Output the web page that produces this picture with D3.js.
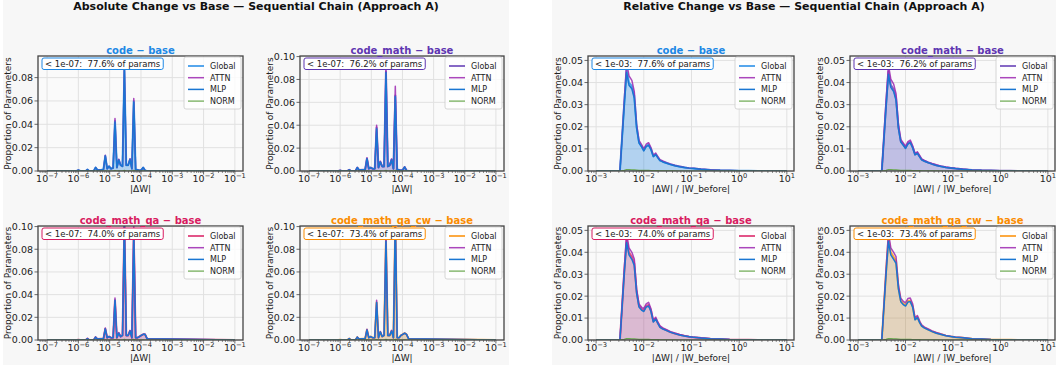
<!DOCTYPE html>
<html>
<head>
<meta charset="utf-8">
<script src="https://cdn.jsdelivr.net/npm/d3@7"></script>
<style>
  body { margin: 0; background: #fff; }
  text { font-family: "DejaVu Sans", sans-serif; }
</style>
</head>
<body>
<svg id="fig" width="1056" height="375"></svg>
<script>
// ---- data ----
const variants = ["code", "code_math", "code_math_qa", "code_math_qa_cw"];
const variantColors = ["#1e88e5", "#5e35b1", "#d81b60", "#fb8c00"];
const belowPct = ["77.6%", "76.2%", "74.0%", "73.4%"];
const seriesNames = ["Global", "ATTN", "MLP", "NORM"];

// absolute |dW| histograms (x in log10)
const absLogX = [-7.0, -6.06, -6.0, -5.94, -5.77, -5.71, -5.65, -5.51, -5.45, -5.39, -5.27, -5.20, -5.14, -5.08, -5.02, -4.96, -4.89, -4.83, -4.77, -4.71, -4.65, -4.59, -4.53, -4.47, -4.41, -4.35, -4.29, -4.23, -4.17, -4.11, -4.05, -3.99, -3.93, -3.87, -3.80, -1.0];
const absGlobal = [
  [0, 0, 0.0008, 0, 0, 0.0012, 0, 0, 0.003, 0.0008, 0.001, 0.0012, 0.013, 0.002, 0.004, 0.002, 0.0025, 0.043, 0.003, 0.0097, 0.005, 0.004, 0.087, 0.005, 0.005, 0.010, 0.002, 0.060, 0.001, 0.001, 0.0005, 0.0008, 0.003, 0.0005, 0, 0],
  [0, 0, 0.0005, 0, 0, 0.001, 0, 0, 0.003, 0.0008, 0.001, 0.001, 0.011, 0.002, 0.003, 0.002, 0.002, 0.038, 0.003, 0.008, 0.004, 0.004, 0.087, 0.004, 0.005, 0.010, 0.002, 0.066, 0.001, 0.001, 0.0005, 0.001, 0.0035, 0.0005, 0, 0],
  [0, 0, 0.0003, 0, 0, 0.0012, 0, 0, 0.0025, 0.0008, 0.001, 0.001, 0.010, 0.002, 0.003, 0.002, 0.002, 0.035, 0.002, 0.006, 0.003, 0.004, 0.102, 0.004, 0.004, 0.008, 0.002, 0.092, 0.002, 0.002, 0.003, 0.004, 0.005, 0.005, 0.001, 0],
  [0, 0, 0.0003, 0, 0, 0.0012, 0, 0, 0.0025, 0.0008, 0.001, 0.001, 0.009, 0.002, 0.003, 0.002, 0.002, 0.033, 0.002, 0.007, 0.003, 0.004, 0.088, 0.004, 0.004, 0.008, 0.002, 0.104, 0.002, 0.002, 0.004, 0.005, 0.006, 0.005, 0.001, 0]
];
const absAttn = [
  [0, 0, 0.0008, 0, 0, 0.0012, 0, 0, 0.003, 0.0008, 0.001, 0.0012, 0.0135, 0.002, 0.004, 0.002, 0.0025, 0.045, 0.003, 0.010, 0.005, 0.004, 0.090, 0.005, 0.005, 0.0105, 0.002, 0.062, 0.001, 0.001, 0.0005, 0.0008, 0.003, 0.0005, 0, 0],
  [0, 0, 0.0005, 0, 0, 0.001, 0, 0, 0.003, 0.0008, 0.001, 0.001, 0.0115, 0.002, 0.003, 0.002, 0.002, 0.040, 0.003, 0.0085, 0.004, 0.004, 0.091, 0.004, 0.005, 0.0105, 0.002, 0.074, 0.001, 0.001, 0.0005, 0.001, 0.0035, 0.0005, 0, 0],
  [0, 0, 0.0003, 0, 0, 0.0012, 0, 0, 0.0025, 0.0008, 0.001, 0.001, 0.0105, 0.002, 0.003, 0.002, 0.002, 0.037, 0.002, 0.0065, 0.003, 0.004, 0.106, 0.004, 0.004, 0.0085, 0.002, 0.100, 0.002, 0.002, 0.003, 0.004, 0.005, 0.005, 0.001, 0],
  [0, 0, 0.0003, 0, 0, 0.0012, 0, 0, 0.0025, 0.0008, 0.001, 0.001, 0.0095, 0.002, 0.003, 0.002, 0.002, 0.035, 0.002, 0.0075, 0.003, 0.004, 0.094, 0.004, 0.004, 0.0085, 0.002, 0.108, 0.002, 0.002, 0.004, 0.005, 0.006, 0.005, 0.001, 0]
];
const absMlp = [
  [0, 0, 0.0008, 0, 0, 0.0012, 0, 0, 0.003, 0.0008, 0.001, 0.0012, 0.0128, 0.002, 0.004, 0.002, 0.0025, 0.042, 0.003, 0.0095, 0.005, 0.004, 0.086, 0.005, 0.005, 0.0098, 0.002, 0.059, 0.001, 0.001, 0.0005, 0.0008, 0.003, 0.0005, 0, 0],
  [0, 0, 0.0005, 0, 0, 0.001, 0, 0, 0.003, 0.0008, 0.001, 0.001, 0.0108, 0.002, 0.003, 0.002, 0.002, 0.037, 0.003, 0.0078, 0.004, 0.004, 0.086, 0.004, 0.005, 0.0098, 0.002, 0.065, 0.001, 0.001, 0.0005, 0.001, 0.0035, 0.0005, 0, 0],
  [0, 0, 0.0003, 0, 0, 0.0012, 0, 0, 0.0025, 0.0008, 0.001, 0.001, 0.0098, 0.002, 0.003, 0.002, 0.002, 0.035, 0.002, 0.006, 0.003, 0.004, 0.101, 0.004, 0.004, 0.008, 0.002, 0.091, 0.002, 0.002, 0.003, 0.004, 0.005, 0.005, 0.001, 0],
  [0, 0, 0.0003, 0, 0, 0.0012, 0, 0, 0.0025, 0.0008, 0.001, 0.001, 0.0088, 0.002, 0.003, 0.002, 0.002, 0.033, 0.002, 0.007, 0.003, 0.004, 0.087, 0.004, 0.004, 0.008, 0.002, 0.103, 0.002, 0.002, 0.004, 0.005, 0.006, 0.005, 0.001, 0]
];
const absNorm = [0, 0, 0, 0, 0, 0, 0, 0, 0, 0, 0, 0, 0.0002, 0, 0, 0, 0, 0.0004, 0, 0.0002, 0, 0, 0.0006, 0, 0, 0.0002, 0, 0.0005, 0, 0, 0, 0, 0.0001, 0, 0, 0];

// relative |dW|/|W_before| histograms (x in log10)
const relLogX = [-3.0, -2.50, -2.41, -2.36, -2.31, -2.25, -2.20, -2.15, -2.10, -2.04, -2.00, -1.95, -1.90, -1.85, -1.80, -1.75, -1.70, -1.66, -1.60, -1.52, -1.44, -1.35, -1.25, -1.15, -1.05, -0.95, -0.80, -0.60, -0.40, -0.20, 0.0, 0.2, 0.4, 0.6, 1.0];
const relGlobal = [
  [0, 0, 0.0306, 0.046, 0.040, 0.0385, 0.034, 0.020, 0.013, 0.011, 0.0094, 0.0114, 0.012, 0.010, 0.0067, 0.0076, 0.006, 0.0048, 0.0042, 0.0036, 0.0030, 0.0025, 0.0020, 0.0016, 0.0013, 0.0011, 0.0008, 0.0005, 0.0003, 0.0002, 0.00012, 0.00006, 0.00003, 0.00001, 0],
  [0, 0, 0.030, 0.045, 0.039, 0.037, 0.033, 0.020, 0.0135, 0.0118, 0.0105, 0.0125, 0.0132, 0.0108, 0.0075, 0.0082, 0.0065, 0.0052, 0.0045, 0.0038, 0.0032, 0.0026, 0.0021, 0.0017, 0.0014, 0.0011, 0.0008, 0.0005, 0.0003, 0.0002, 0.00012, 0.00006, 0.00003, 0.00001, 0],
  [0, 0, 0.031, 0.046, 0.040, 0.038, 0.035, 0.022, 0.0155, 0.014, 0.0135, 0.0155, 0.016, 0.0135, 0.0085, 0.0098, 0.0075, 0.006, 0.0052, 0.0044, 0.0036, 0.003, 0.0024, 0.0019, 0.0015, 0.0012, 0.0009, 0.0006, 0.0004, 0.0002, 0.00013, 0.00007, 0.00003, 0.00001, 0],
  [0, 0, 0.031, 0.0465, 0.040, 0.038, 0.036, 0.024, 0.018, 0.0165, 0.016, 0.0178, 0.018, 0.0155, 0.0095, 0.0105, 0.008, 0.0065, 0.0056, 0.0047, 0.0039, 0.0032, 0.0026, 0.002, 0.0016, 0.0013, 0.001, 0.0006, 0.0004, 0.0002, 0.00013, 0.00007, 0.00003, 0.00001, 0]
];
const relAttn = [
  [0, 0, 0.032, 0.049, 0.043, 0.041, 0.036, 0.021, 0.0138, 0.0117, 0.010, 0.0121, 0.0128, 0.0106, 0.0071, 0.0081, 0.0064, 0.0051, 0.0045, 0.0038, 0.0032, 0.0026, 0.0021, 0.0017, 0.0014, 0.0012, 0.0009, 0.0006, 0.0003, 0.0002, 0.00013, 0.00007, 0.00003, 0.00001, 0],
  [0, 0, 0.0318, 0.048, 0.0415, 0.0393, 0.035, 0.0212, 0.0143, 0.0125, 0.0111, 0.0133, 0.014, 0.0114, 0.008, 0.0087, 0.0069, 0.0055, 0.0048, 0.004, 0.0034, 0.0028, 0.0022, 0.0018, 0.0015, 0.0012, 0.0009, 0.0005, 0.0003, 0.0002, 0.00013, 0.00007, 0.00003, 0.00001, 0],
  [0, 0, 0.0325, 0.0485, 0.042, 0.040, 0.037, 0.0232, 0.0164, 0.0148, 0.0143, 0.0165, 0.0172, 0.0143, 0.009, 0.0104, 0.008, 0.0064, 0.0055, 0.0047, 0.0038, 0.0032, 0.0025, 0.002, 0.0016, 0.0013, 0.001, 0.0006, 0.0004, 0.0002, 0.00014, 0.00007, 0.00003, 0.00001, 0],
  [0, 0, 0.0325, 0.049, 0.042, 0.040, 0.038, 0.0253, 0.019, 0.0175, 0.017, 0.0189, 0.0192, 0.0165, 0.0101, 0.0112, 0.0085, 0.0069, 0.0059, 0.005, 0.0041, 0.0034, 0.0027, 0.0021, 0.0017, 0.0014, 0.0011, 0.0006, 0.0004, 0.0002, 0.00014, 0.00007, 0.00003, 0.00001, 0]
];
const relMlp = [
  [0, 0, 0.0295, 0.0445, 0.0388, 0.0372, 0.033, 0.0194, 0.0126, 0.0107, 0.0091, 0.011, 0.0116, 0.0097, 0.0065, 0.0074, 0.0058, 0.0047, 0.0041, 0.0035, 0.0029, 0.0024, 0.0019, 0.0016, 0.0013, 0.0011, 0.0008, 0.0005, 0.0003, 0.0002, 0.00011, 0.00006, 0.00003, 0.00001, 0],
  [0, 0, 0.029, 0.0437, 0.0378, 0.0359, 0.032, 0.0194, 0.0131, 0.0114, 0.0102, 0.0121, 0.0128, 0.0105, 0.0073, 0.008, 0.0063, 0.005, 0.0044, 0.0037, 0.0031, 0.0025, 0.002, 0.0016, 0.0014, 0.0011, 0.0008, 0.0005, 0.0003, 0.0002, 0.00012, 0.00006, 0.00003, 0.00001, 0],
  [0, 0, 0.030, 0.0445, 0.0388, 0.0368, 0.034, 0.0213, 0.015, 0.0135, 0.013, 0.015, 0.0155, 0.013, 0.0082, 0.0095, 0.0073, 0.0058, 0.005, 0.0043, 0.0035, 0.0029, 0.0023, 0.0018, 0.0015, 0.0012, 0.0009, 0.0006, 0.0004, 0.0002, 0.00012, 0.00006, 0.00003, 0.00001, 0],
  [0, 0, 0.030, 0.045, 0.0388, 0.0368, 0.035, 0.0233, 0.0175, 0.016, 0.0155, 0.0173, 0.0175, 0.015, 0.0092, 0.0102, 0.0078, 0.0063, 0.0054, 0.0046, 0.0038, 0.0031, 0.0025, 0.0019, 0.0016, 0.0013, 0.001, 0.0006, 0.0004, 0.0002, 0.00012, 0.00006, 0.00003, 0.00001, 0]
];
const relNorm = [0, 0, 0.0003, 0.0006, 0.0006, 0.0005, 0.0005, 0.0004, 0.0003, 0.0003, 0.0003, 0.0003, 0.0003, 0.0002, 0.0002, 0.0002, 0.0002, 0.0001, 0.0001, 0.0001, 0.0001, 0.0001, 0, 0, 0, 0, 0, 0, 0, 0, 0, 0, 0, 0, 0];

const absYTicks = [0, 0.02, 0.04, 0.06, 0.08, 0.10];
const relYTicks = [0, 0.01, 0.02, 0.03, 0.04, 0.05];
const absXExp = [-7, -6, -5, -4, -3, -2, -1];
const relXExp = [-3, -2, -1, 0, 1];

// ---- layout ----
const panels = [
  {
    bgX: 3, bgW: 506,
    title: "Absolute Change vs Base \u2014 Sequential Chain (Approach A)",
    xlabel: "|\u0394W|", thr: "1e-07",
    logX: absLogX, global: absGlobal, attn: absAttn, mlp: absMlp, norm: absNorm,
    xDomain: [-7.29, -0.74], yMax: [0.0985, 0.1005, 0.1005, 0.1005],
    yTicks: absYTicks, xExp: absXExp,
    axes: [{x: 38, y: 56, w: 205, h: 115}, {x: 300, y: 56, w: 204, h: 115},
           {x: 38, y: 226, w: 205, h: 114}, {x: 300, y: 226, w: 204, h: 114}]
  },
  {
    bgX: 552, bgW: 504,
    title: "Relative Change vs Base \u2014 Sequential Chain (Approach A)",
    xlabel: "|\u0394W| / |W_before|", thr: "1e-03",
    logX: relLogX, global: relGlobal, attn: relAttn, mlp: relMlp, norm: relNorm,
    xDomain: [-3.17, 1.15], yMax: [0.052, 0.052, 0.052, 0.052],
    yTicks: relYTicks, xExp: relXExp,
    axes: [{x: 588, y: 56, w: 206, h: 115}, {x: 850, y: 56, w: 205, h: 115},
           {x: 588, y: 226, w: 206, h: 114}, {x: 850, y: 226, w: 205, h: 114}]
  }
];

const attnColor = "#9c27b0";
const mlpColor = "#1976d2";
const normColor = "#6aa84f";

const svg = d3.select("#fig");
svg.append("rect").attr("width", 1056).attr("height", 375).attr("fill", "#fff");

panels.forEach((p, pi) => {
  svg.append("rect")
    .attr("x", p.bgX).attr("y", 0)
    .attr("width", p.bgW).attr("height", 365)
    .attr("fill", "#f7f7f7");

  svg.append("text")
    .attr("x", p.bgX + p.bgW / 2).attr("y", 9.5)
    .attr("text-anchor", "middle")
    .style("font-size", "11px").style("font-weight", "bold")
    .attr("fill", "#111")
    .text(p.title);

  p.axes.forEach((ax, vi) => {
    const color = variantColors[vi];
    const g = svg.append("g");
    const x = d3.scaleLog()
      .domain([Math.pow(10, p.xDomain[0]), Math.pow(10, p.xDomain[1])])
      .range([ax.x, ax.x + ax.w]);
    const y = d3.scaleLinear().domain([0, p.yMax[vi]]).range([ax.y + ax.h, ax.y]);

    const clipId = `clip-${pi}-${vi}`;
    svg.append("clipPath").attr("id", clipId)
      .append("rect").attr("x", ax.x).attr("y", ax.y).attr("width", ax.w).attr("height", ax.h);

    g.append("rect")
      .attr("x", ax.x).attr("y", ax.y).attr("width", ax.w).attr("height", ax.h)
      .attr("fill", "#fafafa");

    // grid
    const majors = p.xExp.map(e => Math.pow(10, e));
    g.selectAll(".vgrid").data(majors).enter().append("line")
      .attr("x1", d => x(d)).attr("x2", d => x(d))
      .attr("y1", ax.y).attr("y2", ax.y + ax.h)
      .attr("stroke", "#e1e1e1").attr("stroke-width", 1);
    g.selectAll(".hgrid").data(p.yTicks.filter(t => t <= p.yMax[vi])).enter().append("line")
      .attr("x1", ax.x).attr("x2", ax.x + ax.w)
      .attr("y1", d => y(d)).attr("y2", d => y(d))
      .attr("stroke", "#e1e1e1").attr("stroke-width", 1);

    const pts = arr => arr.map((v, i) => [Math.pow(10, p.logX[i]), v]);
    const line = d3.line().x(d => x(d[0])).y(d => y(d[1]));
    const area = d3.area().x(d => x(d[0])).y0(y(0)).y1(d => y(d[1]));

    const plot = g.append("g").attr("clip-path", `url(#${clipId})`);
    plot.append("path").datum(pts(p.global[vi]))
      .attr("d", area).attr("fill", color).attr("fill-opacity", 0.25);
    plot.append("path").datum(pts(p.mlp[vi]))
      .attr("d", area).attr("fill", mlpColor).attr("fill-opacity", 0.1);

    const styles = [
      {c: color, w: 2, o: 0.75},
      {c: attnColor, w: 1.5, o: 0.85},
      {c: mlpColor, w: 1.5, o: 1},
      {c: normColor, w: 1.2, o: 1}
    ];
    const series = [p.global[vi], p.attn[vi], p.mlp[vi], p.norm];
    series.forEach((s, si) => {
      plot.append("path").datum(pts(s))
        .attr("d", line).attr("fill", "none")
        .attr("stroke", styles[si].c).attr("stroke-width", styles[si].w)
        .attr("stroke-opacity", styles[si].o)
        .attr("stroke-linejoin", "round");
    });

    // frame
    g.append("rect")
      .attr("x", ax.x).attr("y", ax.y).attr("width", ax.w).attr("height", ax.h)
      .attr("fill", "none").attr("stroke", "#444").attr("stroke-width", 1.3);

    // x ticks
    const minors = x.ticks().filter(t => {
      const l = Math.log10(t);
      return Math.abs(l - Math.round(l)) > 1e-6;
    });
    g.selectAll(".xminor").data(minors).enter().append("line")
      .attr("x1", d => x(d)).attr("x2", d => x(d))
      .attr("y1", ax.y + ax.h).attr("y2", ax.y + ax.h + 2)
      .attr("stroke", "#444").attr("stroke-width", 0.6);
    g.selectAll(".xmajor").data(majors).enter().append("line")
      .attr("x1", d => x(d)).attr("x2", d => x(d))
      .attr("y1", ax.y + ax.h).attr("y2", ax.y + ax.h + 3.5)
      .attr("stroke", "#444").attr("stroke-width", 0.8);
    p.xExp.forEach(e => {
      const t = g.append("text")
        .attr("x", x(Math.pow(10, e))).attr("y", ax.y + ax.h + 11)
        .attr("text-anchor", "middle")
        .attr("fill", "#222")
        .style("font-size", "9.5px");
      t.append("tspan").text("10");
      t.append("tspan").attr("dy", -4).style("font-size", "6.7px")
        .text(e < 0 ? "\u2212" + Math.abs(e) : String(e));
    });

    // y ticks
    const yt = p.yTicks.filter(t => t <= p.yMax[vi] + 1e-9);
    g.selectAll(".ytick").data(yt).enter().append("line")
      .attr("x1", ax.x - 3.5).attr("x2", ax.x)
      .attr("y1", d => y(d)).attr("y2", d => y(d))
      .attr("stroke", "#444").attr("stroke-width", 0.8);
    g.selectAll(".ylab").data(yt).enter().append("text")
      .attr("x", ax.x - 5).attr("y", d => y(d) + 3.4)
      .attr("text-anchor", "end").attr("fill", "#222")
      .style("font-size", "9.5px")
      .text(d3.format(".2f"));

    // axis labels
    g.append("text")
      .attr("x", ax.x + ax.w / 2).attr("y", ax.y + ax.h + 21)
      .attr("text-anchor", "middle").attr("fill", "#222")
      .style("font-size", "9px")
      .text(p.xlabel);
    g.append("text")
      .attr("transform", `translate(${ax.x - 27.5},${ax.y + ax.h / 2}) rotate(-90)`)
      .attr("text-anchor", "middle").attr("fill", "#222")
      .style("font-size", "9px")
      .text("Proportion of Parameters");

    // subplot title
    g.append("text")
      .attr("x", ax.x + ax.w / 2).attr("y", ax.y - 2.5)
      .attr("text-anchor", "middle").attr("fill", color)
      .style("font-size", "10px").style("font-weight", "bold")
      .text(`${variants[vi]} \u2212 base`);

    // threshold annotation
    const ann = g.append("g");
    const annRect = ann.append("rect")
      .attr("x", ax.x + 4).attr("y", ax.y + 2).attr("height", 11.5)
      .attr("rx", 2).attr("fill", "#fff").attr("stroke", color).attr("stroke-width", 1);
    const annText = ann.append("text")
      .attr("x", ax.x + 7).attr("y", ax.y + 10.8)
      .attr("fill", "#222").style("font-size", "8.5px")
      .style("white-space", "pre")
      .text(`< ${p.thr}:  ${belowPct[vi]} of params`);
    annRect.attr("width", annText.node().getComputedTextLength() + 6);

    // legend
    const lx = ax.x + ax.w - 59, ly = ax.y + 1;
    g.append("rect")
      .attr("x", lx).attr("y", ly).attr("width", 57).attr("height", 52)
      .attr("rx", 2).attr("fill", "#fff").attr("fill-opacity", 0.8)
      .attr("stroke", "#cccccc").attr("stroke-width", 0.8);
    seriesNames.forEach((name, si) => {
      const yy = ly + 9 + si * 11.7;
      g.append("line")
        .attr("x1", lx + 4).attr("x2", lx + 20)
        .attr("y1", yy).attr("y2", yy)
        .attr("stroke", styles[si].c).attr("stroke-width", styles[si].w)
        .attr("stroke-opacity", styles[si].o);
      g.append("text")
        .attr("x", lx + 26).attr("y", yy + 3)
        .attr("fill", "#222").style("font-size", "8px")
        .text(name);
    });
  });
});
</script>
</body>
</html>
